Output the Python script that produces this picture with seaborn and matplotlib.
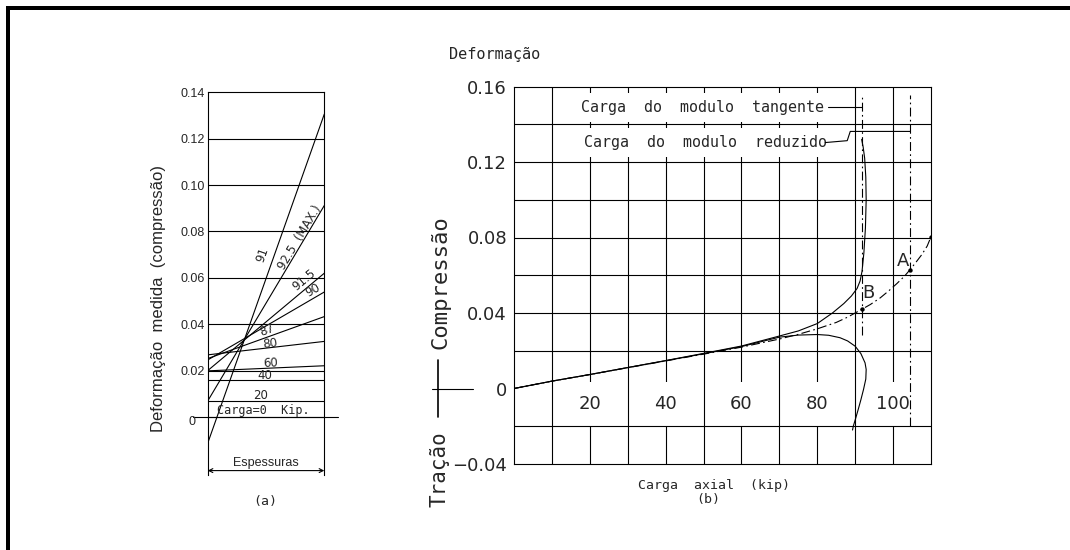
import numpy as np
import pandas as pd
import matplotlib
matplotlib.use("Agg")
import matplotlib.pyplot as plt
import seaborn as sns
from matplotlib.patches import Rectangle
from matplotlib.lines import Line2D

# ---------------- data: panel (a) strain across thickness ----------------
loads_a = ["0", "20", "40", "60", "80", "87", "90", "91.5", "92.5", "91"]
strain_left = [0.0, 0.0069, 0.0159, 0.0199, 0.0268, 0.0252, 0.0246, 0.0200, 0.0069, -0.0113]
strain_right = [0.0, 0.0069, 0.0159, 0.0221, 0.0326, 0.0433, 0.0539, 0.0620, 0.0912, 0.1306]
ticks_a = [0.02, 0.04, 0.06, 0.08, 0.10, 0.12, 0.14]
ticklabels_a = ["0.02", "0.04", "0.06", "0.08", "0.10", "0.12", "0.14"]

# ---------------- data: panel (b) strain vs axial load ----------------
upper_x = [0, 10, 20, 30, 40, 50, 60, 70, 75, 80, 84, 87, 89, 90.5, 91.3, 91.8, 92.3, 92.7, 92.9, 92.8, 92.5, 92.1, 91.7]
upper_y = [0, .0039, .0074, .0111, .0148, .0186, .0225, .0278, .0305, .0344, .0400, .0450, .0490, .0530, .0570, .0620, .0720, .0850, .1000, .1120, .1220, .1280, .1320]

secant_x = [0, 10, 20, 30, 40, 50, 60, 70, 75, 80, 85, 88, 91.7, 94, 96.6, 99, 101, 103, 104.5, 106, 107.6, 109, 110]
secant_y = [0, .0039, .0074, .0110, .0146, .0182, .0219, .0262, .0287, .0316, .0350, .0378, .0419, .0445, .0480, .0520, .0556, .0595, .0630, .0668, .0710, .0755, .0804]

lower_x = [0, 10, 20, 30, 40, 50, 60, 70, 75, 80, 83, 86, 88, 90, 91.5, 92.6, 92.9, 92.8, 92.2, 91.5, 90.8, 90.1, 89.5, 89.3]
lower_y = [0, .0039, .0074, .0111, .0147, .0184, .0222, .0272, .0283, .0286, .0282, .0269, .0252, .0224, .0185, .0136, .0101, .0050, -.0005, -.0060, -.0111, -.0160, -.0200, -.0220]

point_names = ["B", "A", ""]
point_x = [91.7, 104.5, 110]
point_y = [0.0419, 0.0630, 0.0804]

tangent_load = 91.7
reduced_load = 104.5

xticks_b = [20, 40, 60, 80, 100]
yticks_b = [-0.04, 0, 0.04, 0.08, 0.12, 0.16]
yticklabels_b = ["\u22120.04", "0", "0.04", "0.08", "0.12", "0.16"]

# ---------------- style ----------------
sns.set_theme(style="white")
plt.rcParams["font.family"] = ["DejaVu Sans"]
MONO = "DejaVu Sans Mono"
LW = 0.8
DASHDOT = (0, (8, 3, 1.5, 3))

W, H = 1070, 550
fig = plt.figure(figsize=(W / 100, H / 100), dpi=100)
fig.patch.set_facecolor("white")

def fx(px):
    return px / W

def fy(py):
    return 1 - py / H

# ---------------- border (top and left only) ----------------
fig.add_artist(Rectangle((fx(6), 0), fx(4), fy(6), transform=fig.transFigure,
                         color="black", lw=0))
fig.add_artist(Rectangle((fx(6), fy(10)), 1 - fx(6), 4 / H, transform=fig.transFigure,
                         color="black", lw=0))

# ================= panel (a) =================
ax_a = fig.add_axes([fx(207.7), fy(475), fx(116.6), (475 - 92.3) / H])
ax_a.set_xlim(0, 1)
ax_a.set_ylim(-0.025, 0.14)
for s in ["left", "right", "top"]:
    ax_a.spines[s].set_visible(True)
    ax_a.spines[s].set_color("black")
    ax_a.spines[s].set_linewidth(LW)
ax_a.spines["bottom"].set_visible(False)
ax_a.set_facecolor("white")

ax_a.hlines(ticks_a[:-1], 0, 1, color="black", lw=LW, zorder=1)
ax_a.axhline(0, xmin=-0.123, xmax=1.12, color="black", lw=LW, clip_on=False, zorder=2)

df_a = pd.DataFrame({
    "load": np.repeat(loads_a, 2),
    "pos": np.tile([0.0, 1.0], len(loads_a)),
    "strain": np.ravel(np.column_stack([strain_left, strain_right])),
})
sns.lineplot(data=df_a, x="pos", y="strain", units="load", estimator=None,
             color="black", lw=LW, ax=ax_a, sort=False, legend=False, zorder=3)

ax_a.set_xticks([])
ax_a.set_yticks(ticks_a)
ax_a.set_yticklabels(ticklabels_a, family="Liberation Sans", fontsize=9)
ax_a.tick_params(axis="y", length=0, pad=2)
ax_a.set_xlabel("")
ax_a.set_ylabel("")
ax_a.text(-0.137, -0.002, "0", family="Liberation Sans", fontsize=9,
          ha="center", va="center", clip_on=False)

# line labels (a)
lab_text = {"91": "91", "92.5": "92.5  (MAX.)", "91.5": "91.5", "90": "90", "87": "87",
            "80": "80", "60": "60", "40": "40", "20": "20", "0": "Carga=0  Kip."}
lab_pos = {"91": (0.47, 0.0700), "92.5": (0.79, 0.0775), "91.5": (0.83, 0.0590),
           "90": (0.90, 0.0548), "87": (0.51, 0.0375), "80": (0.535, 0.0318),
           "60": (0.535, 0.0232), "40": (0.49, 0.0180), "20": (0.45, 0.0094),
           "0": (0.475, 0.0028)}
for name, l, r in zip(loads_a, strain_left, strain_right):
    x0, y0 = lab_pos[name]
    ang = np.degrees(np.arctan(r - l))
    fam = MONO if name == "0" else "DejaVu Sans"
    ax_a.text(x0, y0, lab_text[name], rotation=ang, transform_rotates_text=True,
              rotation_mode="anchor", ha="center", va="center", fontsize=8.5,
              family=fam, zorder=4)

# dimension arrow
ax_a.annotate("", xy=(0, -0.0231), xytext=(1, -0.0231),
              arrowprops=dict(arrowstyle="<->", lw=LW, color="black",
                              shrinkA=0, shrinkB=0, mutation_scale=7))
ax_a.text(0.5, -0.0197, "Espessuras", family="Liberation Sans", fontsize=9,
          ha="center", va="center")

fig.text(fx(158), fy(299), "Deforma\u00e7\u00e3o  medida  (compress\u00e3o)",
         rotation=90, ha="center", va="center", family="Liberation Sans", fontsize=12)
fig.text(fx(265), fy(502), "(a)", ha="center", va="center", family=MONO, fontsize=9.5)

# ================= panel (b) =================
ax_b = fig.add_axes([fx(514), fy(464), fx(417), (464 - 86.5) / H])
ax_b.set_xlim(0, 110)
ax_b.set_ylim(-0.04, 0.16)
for s in ax_b.spines.values():
    s.set_visible(True)
    s.set_color("black")
    s.set_linewidth(LW)
    s.set_zorder(6)
ax_b.set_facecolor("white")

ax_b.vlines(np.arange(10, 101, 10), -0.04, 0.16, color="black", lw=LW, zorder=1)
ax_b.hlines([-0.02, 0.02, 0.04, 0.06, 0.08, 0.10, 0.12, 0.14], 0, 110,
            color="black", lw=LW, zorder=4)

for xs, ys, ls in [(upper_x, upper_y, "-"), (lower_x, lower_y, "-"),
                   (secant_x, secant_y, DASHDOT)]:
    d = pd.DataFrame({"load": xs, "strain": ys})
    sns.lineplot(data=d, x="load", y="strain", estimator=None, sort=False,
                 color="black", lw=LW, linestyle=ls, ax=ax_b, zorder=5)

sns.scatterplot(x=point_x, y=point_y, color="black", s=10, ax=ax_b, zorder=6,
                edgecolor="black", linewidth=0)
ax_b.text(102.5, 0.0674, "A", fontsize=13, ha="center", va="center", zorder=6)
ax_b.text(93.6, 0.0507, "B", fontsize=13, ha="center", va="center", zorder=6)

# modulus load lines
ax_b.vlines([tangent_load], 0.0286, 0.1557, color="black", lw=LW, linestyles=[DASHDOT], zorder=5)
ax_b.vlines([reduced_load], -0.020, 0.1557, color="black", lw=LW, linestyles=[DASHDOT], zorder=5)

box = dict(boxstyle="square,pad=0.45", fc="white", ec="none")
ax_b.text(49.7, 0.1490, "Carga  do  modulo  tangente", family=MONO, fontsize=10.8,
          ha="center", va="center", bbox=box, zorder=3)
ax_b.text(50.4, 0.1302, "Carga  do  modulo  reduzido", family=MONO, fontsize=10.8,
          ha="center", va="center", bbox=box, zorder=3)
ax_b.plot([82.9, tangent_load], [0.1489, 0.1489], color="black", lw=LW, zorder=4)
ax_b.plot([82.1, 87.9, 88.7, reduced_load], [0.1303, 0.1313, 0.1362, 0.1362],
          color="black", lw=LW, zorder=4)

tbox = dict(boxstyle="square,pad=0.7", fc="white", ec="none")
for v in xticks_b:
    ax_b.text(v, -0.0082, str(v), fontsize=13, ha="center", va="center",
              bbox=tbox, zorder=3)

ax_b.set_xticks([])
ax_b.set_yticks(yticks_b)
ax_b.set_yticklabels(yticklabels_b, fontsize=13)
ax_b.tick_params(axis="y", length=0, pad=5)
ax_b.set_xlabel("")
ax_b.set_ylabel("")

fig.text(fx(494.5), fy(55), "Deforma\u00e7\u00e3o", family=MONO, fontsize=11,
         ha="center", va="center")
fig.text(fx(714), fy(485), "Carga  axial  (kip)", family=MONO, fontsize=9.5,
         ha="center", va="center")
fig.text(fx(708), fy(499), "(b)", family=MONO, fontsize=9.5, ha="center", va="center")
fig.text(fx(440), fy(282.5), "Compress\u00e3o", family=MONO, fontsize=16,
         rotation=90, ha="center", va="center")
fig.text(fx(440), fy(469), "Tra\u00e7\u00e3o", family=MONO, fontsize=15,
         rotation=90, ha="center", va="center")
fig.add_artist(Line2D([fx(432), fx(473)], [fy(389), fy(389)], transform=fig.transFigure,
                      color="black", lw=LW))
fig.add_artist(Line2D([fx(438), fx(438)], [fy(360), fy(417)], transform=fig.transFigure,
                      color="black", lw=1.2))

fig.savefig("out.png", dpi=100, facecolor="white")
